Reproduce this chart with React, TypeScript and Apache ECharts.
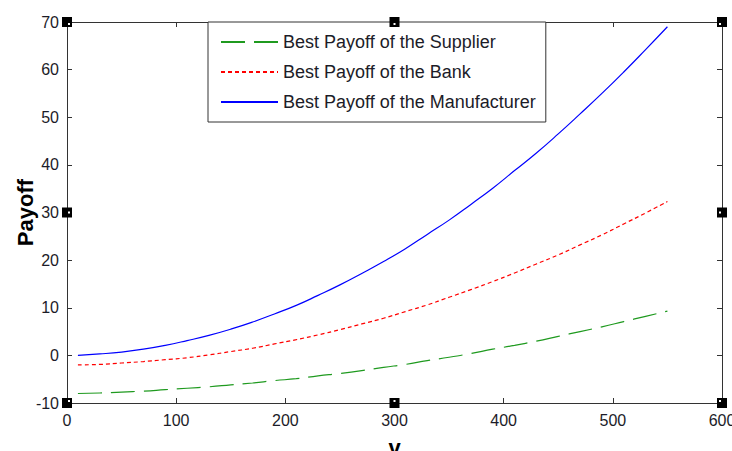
import React, { useEffect, useRef } from "react";
import * as echarts from "echarts";

// Bank loan amount v
const vValues = [
  10, 30, 50, 70, 90, 110, 130, 150, 170, 190, 210, 230, 250, 270, 290, 310,
  330, 350, 370, 390, 410, 430, 450, 470, 490, 510, 530, 550,
];

const supplierPayoff = [
  -8.0, -7.9, -7.7, -7.5, -7.2, -6.9, -6.6, -6.2, -5.8, -5.3, -4.9, -4.3, -3.8,
  -3.2, -2.5, -1.9, -1.1, -0.4, 0.4, 1.3, 2.1, 3.0, 4.0, 5.0, 6.0, 7.1, 8.2, 9.3,
];

const bankPayoff = [
  -2.0, -1.9, -1.6, -1.3, -0.9, -0.5, 0.1, 0.8, 1.5, 2.4, 3.3, 4.3, 5.4, 6.6,
  7.8, 9.2, 10.6, 12.2, 13.8, 15.5, 17.3, 19.2, 21.1, 23.2, 25.3, 27.6, 29.9,
  32.3,
];

const manufacturerPayoff = [
  0.0, 0.3, 0.7, 1.3, 2.1, 3.1, 4.2, 5.5, 7.0, 8.7, 10.5, 12.6, 14.8, 17.2,
  19.7, 22.4, 25.4, 28.4, 31.7, 35.1, 38.8, 42.5, 46.5, 50.7, 55.0, 59.5, 64.2,
  69.0,
];

const seriesNames = [
  "Best Payoff of the Supplier",
  "Best Payoff of the Bank",
  "Best Payoff of the Manufacturer",
];

const GRID = { left: 67, top: 22, width: 655, height: 381 };
const FONT = "'Liberation Sans', Arial, sans-serif";
const AXIS_COLOR = "#333333";
const LABEL_COLOR = "#1c1c28";

function pairs(ys: number[]) {
  return vValues.map((v, i) => [v, ys[i]]);
}

// Black selection handles at the corners and edge midpoints of the axes box
function handles() {
  const xs = [GRID.left, GRID.left + GRID.width / 2, GRID.left + GRID.width];
  const ys = [GRID.top, GRID.top + GRID.height / 2, GRID.top + GRID.height];
  const out: any[] = [];
  xs.forEach((x, ix) => {
    ys.forEach((y, iy) => {
      if (ix === 1 && iy === 1) return;
      out.push({
        type: "rect",
        shape: { x: x - 5, y: y - 5, width: 10, height: 10 },
        style: { fill: "#000" },
        z: 100,
      });
      const dx = ix === 0 ? 1 : ix === 2 ? -3 : -1;
      const dy = iy === 0 ? 1 : iy === 2 ? -3 : -1;
      out.push({
        type: "rect",
        shape: { x: x + dx, y: y + dy, width: 2, height: 2 },
        style: { fill: "#fff" },
        z: 101,
      });
    });
  });
  return out;
}

export default function App() {
  const ref = useRef<HTMLDivElement>(null);

  useEffect(() => {
    if (!ref.current) return;
    const chart = echarts.init(ref.current, null, { renderer: "svg" });

    const tickCommon = {
      show: true,
      inside: true,
      length: 5,
      lineStyle: { color: AXIS_COLOR, width: 1 },
    };
    const lineCommon = {
      show: true,
      onZero: false,
      lineStyle: { color: AXIS_COLOR, width: 1 },
    };

    chart.setOption({
      animation: false,
      backgroundColor: "#ffffff",
      grid: { ...GRID, containLabel: false, outerBoundsMode: "none" },
      legend: {
        orient: "vertical",
        left: 208,
        top: 22,
        padding: [11, 10, 11, 12],
        itemGap: 12,
        itemWidth: 57,
        itemHeight: 18,
        borderColor: AXIS_COLOR,
        borderWidth: 1,
        backgroundColor: "#ffffff",
        itemStyle: { opacity: 0 },
        textStyle: { fontFamily: FONT, fontSize: 18, color: LABEL_COLOR },
        data: seriesNames,
      },
      xAxis: [
        {
          type: "value",
          min: 0,
          max: 600,
          interval: 100,
          position: "bottom",
          name: "v",
          nameLocation: "middle",
          nameGap: 33,
          nameMoveOverlap: false,
          nameTextStyle: {
            fontFamily: FONT,
            fontSize: 22,
            fontWeight: "bold",
            color: "#000",
          },
          axisLine: lineCommon,
          axisTick: tickCommon,
          axisLabel: {
            fontFamily: FONT,
            fontSize: 16,
            color: LABEL_COLOR,
            margin: 9,
          },
          splitLine: { show: false },
        },
        {
          type: "value",
          min: 0,
          max: 600,
          interval: 100,
          position: "top",
          axisLine: lineCommon,
          axisTick: tickCommon,
          axisLabel: { show: false },
          splitLine: { show: false },
        },
      ],
      yAxis: [
        {
          type: "value",
          min: -10,
          max: 70,
          interval: 10,
          position: "left",
          name: "Payoff",
          nameLocation: "middle",
          nameGap: 31,
          nameRotate: 90,
          nameMoveOverlap: false,
          nameTextStyle: {
            fontFamily: FONT,
            fontSize: 22,
            fontWeight: "bold",
            color: "#000",
          },
          axisLine: lineCommon,
          axisTick: tickCommon,
          axisLabel: {
            fontFamily: FONT,
            fontSize: 16,
            color: LABEL_COLOR,
            margin: 8,
          },
          splitLine: { show: false },
        },
        {
          type: "value",
          min: -10,
          max: 70,
          interval: 10,
          position: "right",
          axisLine: lineCommon,
          axisTick: tickCommon,
          axisLabel: { show: false },
          splitLine: { show: false },
        },
      ],
      series: [
        {
          name: seriesNames[0],
          type: "line",
          data: pairs(supplierPayoff),
          smooth: true,
          symbol: "none",
          lineStyle: { color: "#1f9a1f", width: 1.2, type: [24, 9] },
          itemStyle: { color: "#1f9a1f" },
        },
        {
          name: seriesNames[1],
          type: "line",
          data: pairs(bankPayoff),
          smooth: true,
          symbol: "none",
          lineStyle: { color: "#ff0000", width: 1.2, type: [4, 3] },
          itemStyle: { color: "#ff0000" },
        },
        {
          name: seriesNames[2],
          type: "line",
          data: pairs(manufacturerPayoff),
          smooth: true,
          symbol: "none",
          lineStyle: { color: "#0000ff", width: 1.2, type: "solid" },
          itemStyle: { color: "#0000ff" },
        },
      ],
      graphic: handles(),
    });

    return () => chart.dispose();
  }, []);

  return (
    <div
      ref={ref}
      style={{
        position: "fixed",
        left: 0,
        top: 0,
        width: 732,
        height: 451,
        background: "#fff",
      }}
    />
  );
}
